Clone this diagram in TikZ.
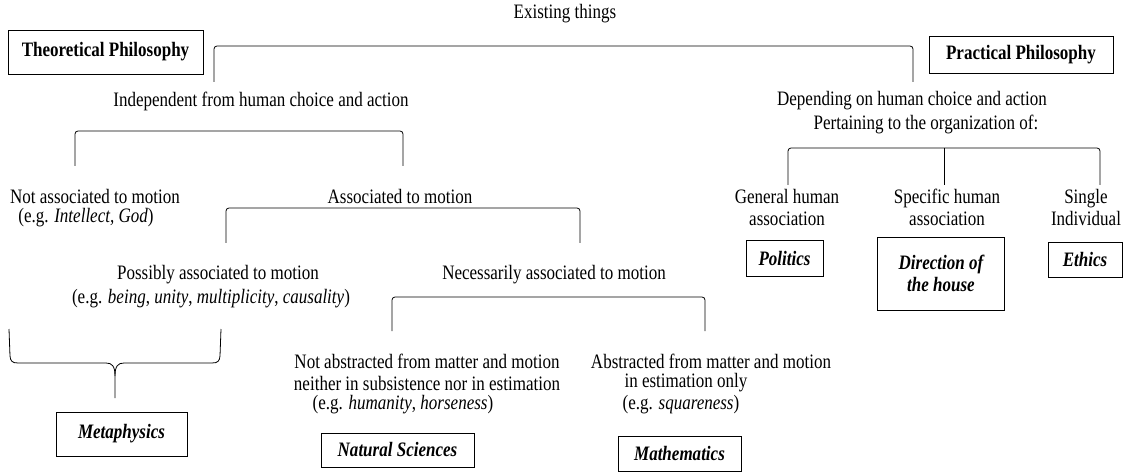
\documentclass[tikz,border=0pt]{standalone}
\usepackage{fontspec}
\setmainfont{Liberation Serif}[FakeStretch=0.83]
\begin{document}
\begin{tikzpicture}[x=1pt,y=-1pt,
  lbl/.style={inner sep=0pt, align=center, font=\fontsize{20.5}{22}\selectfont},
  boxed/.style={draw, line width=0.9pt, inner sep=0pt, align=center,
    font=\fontsize{20.5}{22}\selectfont\bfseries\itshape},
  headbox/.style={boxed, font=\fontsize{20.5}{22}\selectfont\bfseries},
  brk/.style={line width=0.8pt, rounded corners=3pt},
  brace/.style={line width=0.8pt},
]
\useasboundingbox (0,0) rectangle (1130,473);

% ---------- headings ----------
\node[lbl] (exist) at (565,14) {Existing things};
\node[headbox, minimum width=195pt, minimum height=44pt] (theo) at (105.5,52) {Theoretical Philosophy};
\node[headbox, minimum width=184pt, minimum height=37pt] (prac) at (1021,54.5) {Practical Philosophy};

% ---------- first division ----------
\node[lbl] (indep) at (261,101) {Independent from human choice and action};
\node[lbl] (dep) at (912,101) {Depending on human choice and action};
\node[lbl] (pert) at (926,124) {Pertaining to the organization of:};

% ---------- theoretical branch ----------
\node[lbl] (notassoc) at (95,196) {Not associated to motion};
\node[lbl] (notassoceg) at (86,218) {(e.g. \textit{Intellect, God})};
\node[lbl] (assoc) at (400,196) {Associated to motion};
\node[lbl] (poss) at (218,275) {Possibly associated to motion};
\node[lbl] (posseg) at (211,299) {(e.g. \textit{being}, \textit{unity}, \textit{multiplicity}, \textit{causality})};
\node[lbl] (nec) at (554,275) {Necessarily associated to motion};
\node[lbl] (notabs) at (427,372) {Not abstracted from matter and motion\\neither in subsistence nor in estimation};
\node[lbl] (notabseg) at (403,405) {(e.g. \textit{humanity}, \textit{horseness})};
\node[lbl] (abs) at (711,361) {Abstracted from matter and motion};
\node[lbl] (absonly) at (686,383) {in estimation only};
\node[lbl] (abseg) at (681,405) {(e.g. \textit{squareness})};

\node[boxed, minimum width=131pt, minimum height=44pt] (meta) at (121.5,434) {Metaphysics};
\node[boxed, minimum width=153pt, minimum height=34pt] (nat) at (397.5,450) {Natural Sciences};
\node[boxed, minimum width=123pt, minimum height=35pt] (math) at (679.5,453.5) {Mathematics};

% ---------- practical branch ----------
\node[lbl] (gen) at (787,207) {General human\\association};
\node[lbl] (spec) at (947,207) {Specific human\\association};
\node[lbl] (single) at (1086,207) {Single\\Individual};
\node[boxed, minimum width=77pt, minimum height=36pt] (pol) at (784.5,258) {Politics};
\node[boxed, minimum width=127pt, minimum height=73pt] (dir) at (941,273.5) {Direction of\\the house};
\node[boxed, minimum width=74pt, minimum height=35pt] (eth) at (1085,259.5) {Ethics};

% ---------- bracket end points ----------
\coordinate (b1l) at (214,82);  \coordinate (b1t) at (565,46);  \coordinate (b1r) at (913,82);
\coordinate (b2l) at (75,166);  \coordinate (b2t) at (240,131); \coordinate (b2r) at (403,166);
\coordinate (b3l) at (226,243); \coordinate (b3t) at (400,208); \coordinate (b3r) at (580,243);
\coordinate (b4l) at (392,331); \coordinate (b4t) at (550,297); \coordinate (b4r) at (705,331);
\coordinate (b5l) at (788,185); \coordinate (b5t) at (944,148); \coordinate (b5r) at (1100,185);
\coordinate (b5m) at (944,185);
\coordinate (mL) at (9,329); \coordinate (mR) at (221,329); \coordinate (mS) at (115,398);

% ---------- brackets ----------
\draw[brk] (b1l) |- (b1t) -| (b1r);
\draw[brk] (b2l) |- (b2t) -| (b2r);
\draw[brk] (b3l) |- (b3t) -| (b3r);
\draw[brk] (b4l) |- (b4t) -| (b4r);
\draw[brk] (b5l) |- (b5t) -| (b5r);
\draw[brk] (b5t) -- (b5m);

% curly brace gathering the possibly-associated branch
\draw[brace] (mL) -- (10,356) .. controls (10.5,361) and (12,363) .. (18,363)
  -- (106,363) .. controls (112,363) and (115,366) .. (115,376) -- (mS);
\draw[brace] (mR) -- (220,356) .. controls (219.5,361) and (218,363) .. (212,363)
  -- (124,363) .. controls (118,363) and (115,366) .. (115,376);
\end{tikzpicture}
\end{document}
